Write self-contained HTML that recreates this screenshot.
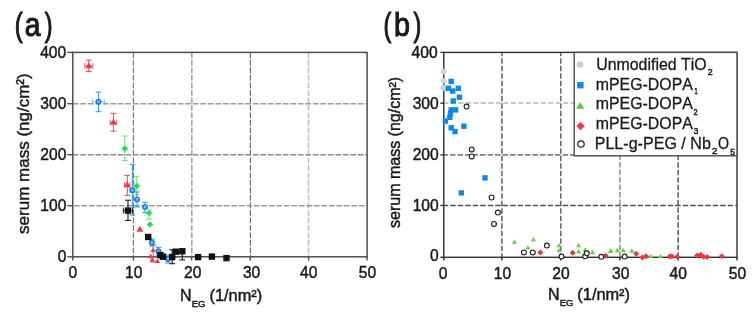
<!DOCTYPE html>
<html><head><meta charset="utf-8"><style>
html,body{margin:0;padding:0;background:#fff;}
svg{display:block;will-change:transform;}
text{font-family:"Liberation Sans", sans-serif;fill:#1a1a1a;stroke:#1a1a1a;stroke-width:0.45px;font-kerning:none;}
</style></head><body>
<svg width="756" height="314" viewBox="0 0 756 314">
<rect width="756" height="314" fill="#fff"/>
<line x1="133.4" y1="52.4" x2="133.4" y2="256.8" stroke="#7c7c7c" stroke-width="1.2" stroke-dasharray="5.7 1.8" stroke-dashoffset="-0.1"/>
<line x1="191.8" y1="52.4" x2="191.8" y2="256.8" stroke="#a4a4a4" stroke-width="1.6" stroke-dasharray="5.7 1.8" stroke-dashoffset="-0.1"/>
<line x1="250.4" y1="52.4" x2="250.4" y2="256.8" stroke="#6e6e6e" stroke-width="1.2" stroke-dasharray="5.7 1.8" stroke-dashoffset="-0.1"/>
<line x1="308.5" y1="52.4" x2="308.5" y2="256.8" stroke="#bebebe" stroke-width="1.5" stroke-dasharray="5.7 1.8" stroke-dashoffset="-0.1"/>
<line x1="72.75" y1="103.8" x2="367.1" y2="103.8" stroke="#9c9c9c" stroke-width="1.5" stroke-dasharray="5.7 1.8" stroke-dashoffset="-0.1"/>
<line x1="72.75" y1="154.8" x2="367.1" y2="154.8" stroke="#8c8c8c" stroke-width="1.5" stroke-dasharray="5.7 1.8" stroke-dashoffset="-0.1"/>
<line x1="72.75" y1="205.8" x2="367.1" y2="205.8" stroke="#9c9c9c" stroke-width="1.5" stroke-dasharray="5.7 1.8" stroke-dashoffset="-1.15"/>
<line x1="501.9" y1="52.4" x2="501.9" y2="257.3" stroke="#626262" stroke-width="1.5" stroke-dasharray="5.5 2.0" stroke-dashoffset="1.7"/>
<line x1="560.8" y1="52.4" x2="560.8" y2="257.3" stroke="#666666" stroke-width="1.5" stroke-dasharray="5.5 2.0" stroke-dashoffset="1.7"/>
<line x1="619.9" y1="155.8" x2="619.9" y2="257.3" stroke="#8e9494" stroke-width="1.6" stroke-dasharray="5.5 2.0" stroke-dashoffset="1.2"/>
<line x1="678.1" y1="155.8" x2="678.1" y2="257.3" stroke="#4e4e4e" stroke-width="1.4" stroke-dasharray="5.5 2.0" stroke-dashoffset="1.1"/>
<line x1="443.8" y1="103.1" x2="574.2" y2="103.1" stroke="#b6b6b6" stroke-width="1.5" stroke-dasharray="5.2 2.3" stroke-dashoffset="0.6"/>
<line x1="443.8" y1="154.9" x2="574.2" y2="154.9" stroke="#828282" stroke-width="1.6" stroke-dasharray="5.5 2.0" stroke-dashoffset="1.3"/>
<line x1="443.8" y1="205.5" x2="737" y2="205.5" stroke="#525252" stroke-width="1.5" stroke-dasharray="5.5 2.0" stroke-dashoffset="1.1"/>
<rect x="72.75" y="52.4" width="294.35" height="204.4" fill="none" stroke="#485050" stroke-width="1.5"/>
<line x1="67.3" y1="256.8" x2="72.75" y2="256.8" stroke="#485050" stroke-width="1.4"/>
<line x1="67.3" y1="205.7" x2="72.75" y2="205.7" stroke="#485050" stroke-width="1.4"/>
<line x1="67.3" y1="154.7" x2="72.75" y2="154.7" stroke="#485050" stroke-width="1.4"/>
<line x1="67.3" y1="103.7" x2="72.75" y2="103.7" stroke="#485050" stroke-width="1.4"/>
<line x1="67.3" y1="52.4" x2="72.75" y2="52.4" stroke="#485050" stroke-width="1.4"/>
<line x1="72.75" y1="256.8" x2="72.75" y2="260.4" stroke="#485050" stroke-width="1.4"/>
<line x1="133.4" y1="256.8" x2="133.4" y2="260.4" stroke="#485050" stroke-width="1.4"/>
<line x1="191.6" y1="256.8" x2="191.6" y2="260.4" stroke="#485050" stroke-width="1.4"/>
<line x1="250.2" y1="256.8" x2="250.2" y2="260.4" stroke="#485050" stroke-width="1.4"/>
<line x1="308.6" y1="256.8" x2="308.6" y2="260.4" stroke="#485050" stroke-width="1.4"/>
<line x1="367.1" y1="256.8" x2="367.1" y2="260.4" stroke="#485050" stroke-width="1.4"/>
<rect x="443.8" y="52.4" width="293.2" height="204.9" fill="none" stroke="#2c3030" stroke-width="1.4"/>
<line x1="440.4" y1="257.3" x2="443.8" y2="257.3" stroke="#2c3030" stroke-width="1.4"/>
<line x1="440.4" y1="205.4" x2="443.8" y2="205.4" stroke="#2c3030" stroke-width="1.4"/>
<line x1="440.4" y1="154.9" x2="443.8" y2="154.9" stroke="#2c3030" stroke-width="1.4"/>
<line x1="440.4" y1="103.2" x2="443.8" y2="103.2" stroke="#2c3030" stroke-width="1.4"/>
<line x1="440.4" y1="52.4" x2="443.8" y2="52.4" stroke="#2c3030" stroke-width="1.4"/>
<line x1="443.8" y1="257.3" x2="443.8" y2="260.6" stroke="#2c3030" stroke-width="1.4"/>
<line x1="501.9" y1="257.3" x2="501.9" y2="260.6" stroke="#2c3030" stroke-width="1.4"/>
<line x1="560.8" y1="257.3" x2="560.8" y2="260.6" stroke="#2c3030" stroke-width="1.4"/>
<line x1="619.9" y1="257.3" x2="619.9" y2="260.6" stroke="#2c3030" stroke-width="1.4"/>
<line x1="678.1" y1="257.3" x2="678.1" y2="260.6" stroke="#2c3030" stroke-width="1.4"/>
<line x1="737" y1="257.3" x2="737" y2="260.6" stroke="#2c3030" stroke-width="1.4"/>
<line x1="124.8" y1="136" x2="124.8" y2="160.5" stroke="#6fe07f" stroke-width="1.05"/>
<line x1="121.9" y1="136" x2="127.7" y2="136" stroke="#6fe07f" stroke-width="1.05"/>
<line x1="121.9" y1="160.5" x2="127.7" y2="160.5" stroke="#6fe07f" stroke-width="1.05"/>
<line x1="122.4" y1="148.6" x2="127.6" y2="148.6" stroke="#6fe07f" stroke-width="1.05" stroke-opacity="0.45"/>
<line x1="122.4" y1="145.7" x2="122.4" y2="151.5" stroke="#6fe07f" stroke-width="1.05" stroke-opacity="0.45"/>
<line x1="127.6" y1="145.7" x2="127.6" y2="151.5" stroke="#6fe07f" stroke-width="1.05" stroke-opacity="0.45"/>
<line x1="136.7" y1="176.3" x2="136.7" y2="195" stroke="#6fe07f" stroke-width="1.05"/>
<line x1="133.8" y1="176.3" x2="139.6" y2="176.3" stroke="#6fe07f" stroke-width="1.05"/>
<line x1="133.8" y1="195" x2="139.6" y2="195" stroke="#6fe07f" stroke-width="1.05"/>
<line x1="134.2" y1="185.9" x2="139.2" y2="185.9" stroke="#6fe07f" stroke-width="1.05" stroke-opacity="0.45"/>
<line x1="134.2" y1="183" x2="134.2" y2="188.8" stroke="#6fe07f" stroke-width="1.05" stroke-opacity="0.45"/>
<line x1="139.2" y1="183" x2="139.2" y2="188.8" stroke="#6fe07f" stroke-width="1.05" stroke-opacity="0.45"/>
<line x1="149.1" y1="210" x2="149.1" y2="219.1" stroke="#6fe07f" stroke-width="1.05"/>
<line x1="146.2" y1="210" x2="152" y2="210" stroke="#6fe07f" stroke-width="1.05"/>
<line x1="146.2" y1="219.1" x2="152" y2="219.1" stroke="#6fe07f" stroke-width="1.05"/>
<line x1="88.8" y1="60.1" x2="88.8" y2="71.6" stroke="#e6505e" stroke-width="1.05"/>
<line x1="85.9" y1="60.1" x2="91.7" y2="60.1" stroke="#e6505e" stroke-width="1.05"/>
<line x1="85.9" y1="71.6" x2="91.7" y2="71.6" stroke="#e6505e" stroke-width="1.05"/>
<line x1="84.8" y1="65.8" x2="92.8" y2="65.8" stroke="#e6505e" stroke-width="1.05" stroke-opacity="0.8"/>
<line x1="84.8" y1="62.9" x2="84.8" y2="68.7" stroke="#e6505e" stroke-width="1.05" stroke-opacity="0.8"/>
<line x1="92.8" y1="62.9" x2="92.8" y2="68.7" stroke="#e6505e" stroke-width="1.05" stroke-opacity="0.8"/>
<line x1="113.4" y1="113.3" x2="113.4" y2="131.2" stroke="#e6505e" stroke-width="1.05"/>
<line x1="110.5" y1="113.3" x2="116.3" y2="113.3" stroke="#e6505e" stroke-width="1.05"/>
<line x1="110.5" y1="131.2" x2="116.3" y2="131.2" stroke="#e6505e" stroke-width="1.05"/>
<line x1="110.2" y1="122.4" x2="116.6" y2="122.4" stroke="#e6505e" stroke-width="1.05" stroke-opacity="0.8"/>
<line x1="110.2" y1="119.5" x2="110.2" y2="125.3" stroke="#e6505e" stroke-width="1.05" stroke-opacity="0.8"/>
<line x1="116.6" y1="119.5" x2="116.6" y2="125.3" stroke="#e6505e" stroke-width="1.05" stroke-opacity="0.8"/>
<line x1="127.3" y1="175.4" x2="127.3" y2="195.4" stroke="#e6505e" stroke-width="1.05"/>
<line x1="124.4" y1="175.4" x2="130.2" y2="175.4" stroke="#e6505e" stroke-width="1.05"/>
<line x1="124.4" y1="195.4" x2="130.2" y2="195.4" stroke="#e6505e" stroke-width="1.05"/>
<line x1="124.5" y1="184.9" x2="130" y2="184.9" stroke="#e6505e" stroke-width="1.05" stroke-opacity="0.8"/>
<line x1="124.5" y1="182" x2="124.5" y2="187.8" stroke="#e6505e" stroke-width="1.05" stroke-opacity="0.8"/>
<line x1="130" y1="182" x2="130" y2="187.8" stroke="#e6505e" stroke-width="1.05" stroke-opacity="0.8"/>
<line x1="153.1" y1="245" x2="153.1" y2="262" stroke="#e6505e" stroke-width="1.05"/>
<line x1="150.2" y1="245" x2="156" y2="245" stroke="#e6505e" stroke-width="1.05"/>
<line x1="150.2" y1="262" x2="156" y2="262" stroke="#e6505e" stroke-width="1.05"/>
<line x1="98.5" y1="92.1" x2="98.5" y2="111.7" stroke="#3b97e0" stroke-width="1.05"/>
<line x1="95.6" y1="92.1" x2="101.4" y2="92.1" stroke="#3b97e0" stroke-width="1.05"/>
<line x1="95.6" y1="111.7" x2="101.4" y2="111.7" stroke="#3b97e0" stroke-width="1.05"/>
<line x1="92.6" y1="101.7" x2="104.5" y2="101.7" stroke="#3b97e0" stroke-width="1.05" stroke-opacity="0.5"/>
<line x1="92.6" y1="98.8" x2="92.6" y2="104.6" stroke="#3b97e0" stroke-width="1.05" stroke-opacity="0.5"/>
<line x1="104.5" y1="98.8" x2="104.5" y2="104.6" stroke="#3b97e0" stroke-width="1.05" stroke-opacity="0.5"/>
<line x1="132.4" y1="164.3" x2="132.4" y2="215" stroke="#3b97e0" stroke-width="1.05"/>
<line x1="129.5" y1="164.3" x2="135.3" y2="164.3" stroke="#3b97e0" stroke-width="1.05"/>
<line x1="129.5" y1="215" x2="135.3" y2="215" stroke="#3b97e0" stroke-width="1.05"/>
<line x1="129.9" y1="190.2" x2="134.9" y2="190.2" stroke="#3b97e0" stroke-width="1.05" stroke-opacity="0.5"/>
<line x1="129.9" y1="187.3" x2="129.9" y2="193.1" stroke="#3b97e0" stroke-width="1.05" stroke-opacity="0.5"/>
<line x1="134.9" y1="187.3" x2="134.9" y2="193.1" stroke="#3b97e0" stroke-width="1.05" stroke-opacity="0.5"/>
<line x1="137" y1="192" x2="137" y2="207" stroke="#3b97e0" stroke-width="1.05"/>
<line x1="134.1" y1="192" x2="139.9" y2="192" stroke="#3b97e0" stroke-width="1.05"/>
<line x1="134.1" y1="207" x2="139.9" y2="207" stroke="#3b97e0" stroke-width="1.05"/>
<line x1="145" y1="202.2" x2="145" y2="212.4" stroke="#3b97e0" stroke-width="1.05"/>
<line x1="142.1" y1="202.2" x2="147.9" y2="202.2" stroke="#3b97e0" stroke-width="1.05"/>
<line x1="142.1" y1="212.4" x2="147.9" y2="212.4" stroke="#3b97e0" stroke-width="1.05"/>
<line x1="151.9" y1="239" x2="151.9" y2="246" stroke="#3b97e0" stroke-width="1.05"/>
<line x1="149" y1="239" x2="154.8" y2="239" stroke="#3b97e0" stroke-width="1.05"/>
<line x1="149" y1="246" x2="154.8" y2="246" stroke="#3b97e0" stroke-width="1.05"/>
<line x1="158.4" y1="247.4" x2="158.4" y2="255" stroke="#3b97e0" stroke-width="1.05"/>
<line x1="155.5" y1="247.4" x2="161.3" y2="247.4" stroke="#3b97e0" stroke-width="1.05"/>
<line x1="155.5" y1="255" x2="161.3" y2="255" stroke="#3b97e0" stroke-width="1.05"/>
<line x1="168" y1="255" x2="168" y2="263" stroke="#3b97e0" stroke-width="1.05"/>
<line x1="165.1" y1="255" x2="170.9" y2="255" stroke="#3b97e0" stroke-width="1.05"/>
<line x1="165.1" y1="263" x2="170.9" y2="263" stroke="#3b97e0" stroke-width="1.05"/>
<line x1="128" y1="200.2" x2="128" y2="220.4" stroke="#111111" stroke-width="1.05"/>
<line x1="125.1" y1="200.2" x2="130.9" y2="200.2" stroke="#111111" stroke-width="1.05"/>
<line x1="125.1" y1="220.4" x2="130.9" y2="220.4" stroke="#111111" stroke-width="1.05"/>
<line x1="123.4" y1="210.6" x2="132.6" y2="210.6" stroke="#111111" stroke-width="1.05" stroke-opacity="0.9"/>
<line x1="123.4" y1="207.7" x2="123.4" y2="213.5" stroke="#111111" stroke-width="1.05" stroke-opacity="0.9"/>
<line x1="132.6" y1="207.7" x2="132.6" y2="213.5" stroke="#111111" stroke-width="1.05" stroke-opacity="0.9"/>
<line x1="172.2" y1="249.8" x2="172.2" y2="263.7" stroke="#111111" stroke-width="1.05"/>
<line x1="169.3" y1="249.8" x2="175.1" y2="249.8" stroke="#111111" stroke-width="1.05"/>
<line x1="169.3" y1="263.7" x2="175.1" y2="263.7" stroke="#111111" stroke-width="1.05"/>
<line x1="182.3" y1="249" x2="182.3" y2="259.9" stroke="#111111" stroke-width="1.05"/>
<line x1="179.4" y1="249" x2="185.2" y2="249" stroke="#111111" stroke-width="1.05"/>
<line x1="179.4" y1="259.9" x2="185.2" y2="259.9" stroke="#111111" stroke-width="1.05"/>
<path d="M124.8 145.4L128 148.6L124.8 151.8L121.6 148.6Z" fill="#2ad94a"/>
<path d="M136.7 182.7L139.9 185.9L136.7 189.1L133.5 185.9Z" fill="#2ad94a"/>
<path d="M149.1 209.9L152.3 213.1L149.1 216.3L145.9 213.1Z" fill="#2ad94a"/>
<path d="M150 221.2L153.2 224.4L150 227.6L146.8 224.4Z" fill="#2ad94a"/>
<path d="M88.8 62.27L92.3 68.15L85.3 68.15Z" fill="#ee3a48"/>
<path d="M113.4 118.87L116.9 124.75L109.9 124.75Z" fill="#ee3a48"/>
<path d="M127.3 181.37L130.8 187.25L123.8 187.25Z" fill="#ee3a48"/>
<path d="M139.8 225.77L143.3 231.65L136.3 231.65Z" fill="#ee3a48"/>
<path d="M153.1 247.58L155.8 252.11L150.4 252.11Z" fill="#ee3a48"/>
<path d="M150.7 253.78L153.4 258.31L148 258.31Z" fill="#ee3a48"/>
<path d="M152.2 257.18L154.9 261.71L149.5 261.71Z" fill="#ee3a48"/>
<path d="M157.4 258.58L160.1 263.11L154.7 263.11Z" fill="#ee3a48"/>
<circle cx="98.5" cy="101.7" r="2.2" fill="#7dbdf2" stroke="#1f7fd8" stroke-width="1.6"/>
<circle cx="132.4" cy="190.2" r="2.2" fill="#7dbdf2" stroke="#1f7fd8" stroke-width="1.6"/>
<circle cx="137" cy="199.5" r="2.2" fill="#7dbdf2" stroke="#1f7fd8" stroke-width="1.6"/>
<circle cx="145" cy="207" r="2.2" fill="#7dbdf2" stroke="#1f7fd8" stroke-width="1.6"/>
<circle cx="151.9" cy="242.6" r="2.2" fill="#7dbdf2" stroke="#1f7fd8" stroke-width="1.6"/>
<circle cx="158.4" cy="251.3" r="2.2" fill="#7dbdf2" stroke="#1f7fd8" stroke-width="1.6"/>
<circle cx="168" cy="258.9" r="2.2" fill="#7dbdf2" stroke="#1f7fd8" stroke-width="1.6"/>
<rect x="124.8" y="207.4" width="6.4" height="6.4" fill="#111111"/>
<rect x="145" y="233.8" width="6.4" height="6.4" fill="#111111"/>
<rect x="157.1" y="251.9" width="6.4" height="6.4" fill="#111111"/>
<rect x="159.7" y="253.5" width="6.4" height="6.4" fill="#111111"/>
<rect x="169" y="253.8" width="6.4" height="6.4" fill="#111111"/>
<rect x="172.6" y="248.5" width="6.4" height="6.4" fill="#111111"/>
<rect x="179.1" y="248.1" width="6.4" height="6.4" fill="#111111"/>
<rect x="194.9" y="253.9" width="6.4" height="6.4" fill="#111111"/>
<rect x="208.7" y="253.4" width="6.4" height="6.4" fill="#111111"/>
<rect x="223.3" y="254.9" width="6.4" height="6.4" fill="#111111"/>
<circle cx="443.6" cy="71.6" r="2.9" fill="#c5d9d5"/>
<circle cx="443.4" cy="80.8" r="2.9" fill="#c5d9d5"/>
<circle cx="443.4" cy="87.9" r="2.9" fill="#c5d9d5"/>
<rect x="448.5" y="78.7" width="5.4" height="5.4" fill="#0d87ee"/>
<rect x="445.6" y="85.6" width="5.4" height="5.4" fill="#0d87ee"/>
<rect x="450" y="88.3" width="5.4" height="5.4" fill="#0d87ee"/>
<rect x="455.6" y="85.6" width="5.4" height="5.4" fill="#0d87ee"/>
<rect x="456.7" y="94.5" width="5.4" height="5.4" fill="#0d87ee"/>
<rect x="450.5" y="98.3" width="5.4" height="5.4" fill="#0d87ee"/>
<rect x="448.5" y="107.2" width="5.4" height="5.4" fill="#0d87ee"/>
<rect x="452.9" y="107.2" width="5.4" height="5.4" fill="#0d87ee"/>
<rect x="447.8" y="110.6" width="5.4" height="5.4" fill="#0d87ee"/>
<rect x="447.1" y="114.6" width="5.4" height="5.4" fill="#0d87ee"/>
<rect x="442.7" y="118.4" width="5.4" height="5.4" fill="#0d87ee"/>
<rect x="461.2" y="123.5" width="5.4" height="5.4" fill="#0d87ee"/>
<rect x="448.5" y="125.1" width="5.4" height="5.4" fill="#0d87ee"/>
<rect x="452.3" y="128.9" width="5.4" height="5.4" fill="#0d87ee"/>
<rect x="482.3" y="175.2" width="5.4" height="5.4" fill="#0d87ee"/>
<rect x="458.6" y="190.2" width="5.4" height="5.4" fill="#0d87ee"/>
<path d="M514.5 239.48L517.1 243.85L511.9 243.85Z" fill="#66d04a"/>
<path d="M533.4 237.08L536 241.45L530.8 241.45Z" fill="#66d04a"/>
<path d="M527.9 245.18L530.5 249.55L525.3 249.55Z" fill="#66d04a"/>
<path d="M559.1 242.88L561.7 247.25L556.5 247.25Z" fill="#66d04a"/>
<path d="M559.1 247.88L561.7 252.25L556.5 252.25Z" fill="#66d04a"/>
<path d="M578.6 242.98L581.2 247.35L576 247.35Z" fill="#66d04a"/>
<path d="M578.6 248.88L581.2 253.25L576 253.25Z" fill="#66d04a"/>
<path d="M585.1 247.18L587.7 251.55L582.5 251.55Z" fill="#66d04a"/>
<path d="M592.5 249.78L595.1 254.15L589.9 254.15Z" fill="#66d04a"/>
<path d="M610.4 248.28L613 252.65L607.8 252.65Z" fill="#66d04a"/>
<path d="M611 248.38L613.6 252.75L608.4 252.75Z" fill="#66d04a"/>
<path d="M617.3 247.78L619.9 252.15L614.7 252.15Z" fill="#66d04a"/>
<path d="M623.2 247.78L625.8 252.15L620.6 252.15Z" fill="#66d04a"/>
<path d="M631.8 248.38L634.4 252.75L629.2 252.75Z" fill="#66d04a"/>
<path d="M650.7 253.98L653.3 258.35L648.1 258.35Z" fill="#66d04a"/>
<path d="M660.5 253.98L663.1 258.35L657.9 258.35Z" fill="#66d04a"/>
<path d="M540.4 249.5L543.4 252.5L540.4 255.5L537.4 252.5Z" fill="#f03540"/>
<path d="M572.7 249.7L575.7 252.7L572.7 255.7L569.7 252.7Z" fill="#f03540"/>
<path d="M605.5 252.7L608.5 255.7L605.5 258.7L602.5 255.7Z" fill="#f03540"/>
<path d="M636.2 250.7L639.2 253.7L636.2 256.7L633.2 253.7Z" fill="#f03540"/>
<path d="M642.4 254.4L645.4 257.4L642.4 260.4L639.4 257.4Z" fill="#f03540"/>
<path d="M646 253.3L649 256.3L646 259.3L643 256.3Z" fill="#f03540"/>
<path d="M669.6 253.6L672.6 256.6L669.6 259.6L666.6 256.6Z" fill="#f03540"/>
<path d="M671.8 253.2L674.8 256.2L671.8 259.2L668.8 256.2Z" fill="#f03540"/>
<path d="M677.1 253.8L680.1 256.8L677.1 259.8L674.1 256.8Z" fill="#f03540"/>
<path d="M697.1 252.4L700.1 255.4L697.1 258.4L694.1 255.4Z" fill="#f03540"/>
<path d="M700.6 251.7L703.6 254.7L700.6 257.7L697.6 254.7Z" fill="#f03540"/>
<path d="M703.6 253.8L706.6 256.8L703.6 259.8L700.6 256.8Z" fill="#f03540"/>
<path d="M707.1 254L710.1 257L707.1 260L704.1 257Z" fill="#f03540"/>
<path d="M721.8 253.2L724.8 256.2L721.8 259.2L718.8 256.2Z" fill="#f03540"/>
<circle cx="466.6" cy="106.6" r="2.45" fill="#ffffff" stroke="#1a1a1a" stroke-width="1.1"/>
<circle cx="471.7" cy="149.4" r="2.45" fill="#ffffff" stroke="#1a1a1a" stroke-width="1.1"/>
<circle cx="471.7" cy="156.4" r="2.45" fill="#ffffff" stroke="#1a1a1a" stroke-width="1.1"/>
<circle cx="491.6" cy="197.5" r="2.45" fill="#ffffff" stroke="#1a1a1a" stroke-width="1.1"/>
<circle cx="497.9" cy="212.6" r="2.45" fill="#ffffff" stroke="#1a1a1a" stroke-width="1.1"/>
<circle cx="494" cy="223.9" r="2.45" fill="#ffffff" stroke="#1a1a1a" stroke-width="1.1"/>
<circle cx="523.9" cy="252.4" r="2.45" fill="#ffffff" stroke="#1a1a1a" stroke-width="1.1"/>
<circle cx="532.8" cy="252.4" r="2.45" fill="#ffffff" stroke="#1a1a1a" stroke-width="1.1"/>
<circle cx="546.9" cy="245.6" r="2.45" fill="#ffffff" stroke="#1a1a1a" stroke-width="1.1"/>
<circle cx="561.5" cy="256.6" r="2.45" fill="#ffffff" stroke="#1a1a1a" stroke-width="1.1"/>
<circle cx="585.1" cy="256.3" r="2.45" fill="#ffffff" stroke="#1a1a1a" stroke-width="1.1"/>
<circle cx="586.8" cy="253.3" r="2.45" fill="#ffffff" stroke="#1a1a1a" stroke-width="1.1"/>
<circle cx="601.3" cy="256.8" r="2.45" fill="#ffffff" stroke="#1a1a1a" stroke-width="1.1"/>
<circle cx="624.7" cy="256.6" r="2.45" fill="#ffffff" stroke="#1a1a1a" stroke-width="1.1"/>
<rect x="574.2" y="52.4" width="162.8" height="103.4" fill="#ffffff" stroke="#4a4a4a" stroke-width="1.4"/>
<circle cx="580" cy="64.6" r="3.3" fill="#c9cfcf"/>
<rect x="577.2" y="82" width="6.4" height="6.4" fill="#0d87ee"/>
<path d="M580.2 101.9L584.4 108.8L576.0 108.8Z" fill="#5fcc40"/>
<path d="M580.5 121.9L584.7 126.1L580.5 130.3L576.3 126.1Z" fill="#f03540"/>
<circle cx="581" cy="144" r="3.2" fill="#ffffff" stroke="#1a1a1a" stroke-width="1.2"/>
<text x="596.17" y="69.80" font-size="16.6" textLength="110.59" lengthAdjust="spacingAndGlyphs" style="stroke-width:0.3px">Unmodified TiO</text>
<text x="707.86" y="75.10" font-size="8.8" style="stroke-width:0.5px">2</text>
<text x="595.75" y="89.60" font-size="16.6" textLength="97.09" lengthAdjust="spacingAndGlyphs" style="stroke-width:0.3px">mPEG-DOPA</text>
<text x="694.58" y="94.40" font-size="8.8" textLength="3.10" lengthAdjust="spacingAndGlyphs" style="stroke-width:0.5px">1</text>
<text x="595.75" y="109.30" font-size="16.6" textLength="97.09" lengthAdjust="spacingAndGlyphs" style="stroke-width:0.3px">mPEG-DOPA</text>
<text x="693.62" y="114.60" font-size="8.8" textLength="4.15" lengthAdjust="spacingAndGlyphs" style="stroke-width:0.5px">2</text>
<text x="595.75" y="129.40" font-size="16.6" textLength="97.09" lengthAdjust="spacingAndGlyphs" style="stroke-width:0.3px">mPEG-DOPA</text>
<text x="693.69" y="134.10" font-size="8.8" textLength="4.57" lengthAdjust="spacingAndGlyphs" style="stroke-width:0.5px">3</text>
<text x="594.68" y="148.70" font-size="16.6" textLength="116.19" lengthAdjust="spacingAndGlyphs" style="stroke-width:0.3px">PLL-g-PEG / Nb</text>
<text x="711.90" y="154.30" font-size="8.8" textLength="5.49" lengthAdjust="spacingAndGlyphs" style="stroke-width:0.5px">2</text>
<text x="717.93" y="148.70" font-size="16.6" textLength="11.05" lengthAdjust="spacingAndGlyphs" style="stroke-width:0.3px">O</text>
<text x="730.26" y="154.50" font-size="8.8" textLength="4.69" lengthAdjust="spacingAndGlyphs" style="stroke-width:0.5px">5</text>
<text x="66.4" y="261.8" font-size="15.6" text-anchor="end">0</text>
<text x="66.4" y="211.1" font-size="15.6" text-anchor="end">100</text>
<text x="66.4" y="160.1" font-size="15.6" text-anchor="end">200</text>
<text x="66.4" y="109.1" font-size="15.6" text-anchor="end">300</text>
<text x="66.2" y="57.8" font-size="15.6" text-anchor="end">400</text>
<text x="438.7" y="261.3" font-size="15.6" text-anchor="end">0</text>
<text x="438.7" y="210.7" font-size="15.6" text-anchor="end">100</text>
<text x="438.7" y="160.2" font-size="15.6" text-anchor="end">200</text>
<text x="438.7" y="108.5" font-size="15.6" text-anchor="end">300</text>
<text x="437.6" y="57.7" font-size="15.6" text-anchor="end">400</text>
<text x="72.9" y="278.2" font-size="15.6" text-anchor="middle">0</text>
<text x="133.8" y="278.2" font-size="15.6" text-anchor="middle">10</text>
<text x="192.8" y="278.2" font-size="15.6" text-anchor="middle">20</text>
<text x="251.6" y="278.2" font-size="15.6" text-anchor="middle">30</text>
<text x="308.7" y="278.2" font-size="15.6" text-anchor="middle">40</text>
<text x="367.4" y="278.2" font-size="15.6" text-anchor="middle">50</text>
<text x="443.2" y="278.6" font-size="15.6" text-anchor="middle">0</text>
<text x="502.4" y="278.6" font-size="15.6" text-anchor="middle">10</text>
<text x="560.95" y="278.6" font-size="15.6" text-anchor="middle">20</text>
<text x="620.75" y="278.6" font-size="15.6" text-anchor="middle">30</text>
<text x="678.2" y="278.6" font-size="15.6" text-anchor="middle">40</text>
<text x="737.5" y="278.6" font-size="15.6" text-anchor="middle">50</text>
<text x="179.99" y="301.20" font-size="16">N</text>
<text x="191.83" y="306.60" font-size="9" textLength="13.57" lengthAdjust="spacingAndGlyphs">EG</text>
<text x="209.49" y="301.20" font-size="16" textLength="52.63" lengthAdjust="spacingAndGlyphs">(1/nm²)</text>
<text x="547.89" y="300.40" font-size="16">N</text>
<text x="559.73" y="305.80" font-size="9" textLength="13.57" lengthAdjust="spacingAndGlyphs">EG</text>
<text x="577.39" y="300.40" font-size="16" textLength="52.63" lengthAdjust="spacingAndGlyphs">(1/nm²)</text>
<text transform="translate(28.9,153.6) rotate(-90)" x="0" y="0" font-size="17.0" text-anchor="middle">serum mass (ng/cm²)</text>
<text transform="translate(400.2,152.4) rotate(-90)" x="0" y="0" font-size="16.0" text-anchor="middle">serum mass (ng/cm²)</text>
<text x="14.78" y="35.80" font-size="33" textLength="7.91" lengthAdjust="spacingAndGlyphs" style="stroke-width:1.1px">(</text>
<text x="24.65" y="35.80" font-size="33" textLength="15.70" lengthAdjust="spacingAndGlyphs" style="stroke-width:1.1px">a</text>
<text x="44.81" y="35.80" font-size="33" textLength="7.79" lengthAdjust="spacingAndGlyphs" style="stroke-width:1.1px">)</text>
<text x="383.60" y="36.40" font-size="33" textLength="7.79" lengthAdjust="spacingAndGlyphs" style="stroke-width:1.1px">(</text>
<text x="394.10" y="36.40" font-size="33" textLength="15.95" lengthAdjust="spacingAndGlyphs" style="stroke-width:1.1px">b</text>
<text x="413.41" y="36.40" font-size="33" textLength="7.79" lengthAdjust="spacingAndGlyphs" style="stroke-width:1.1px">)</text>
</svg></body></html>
